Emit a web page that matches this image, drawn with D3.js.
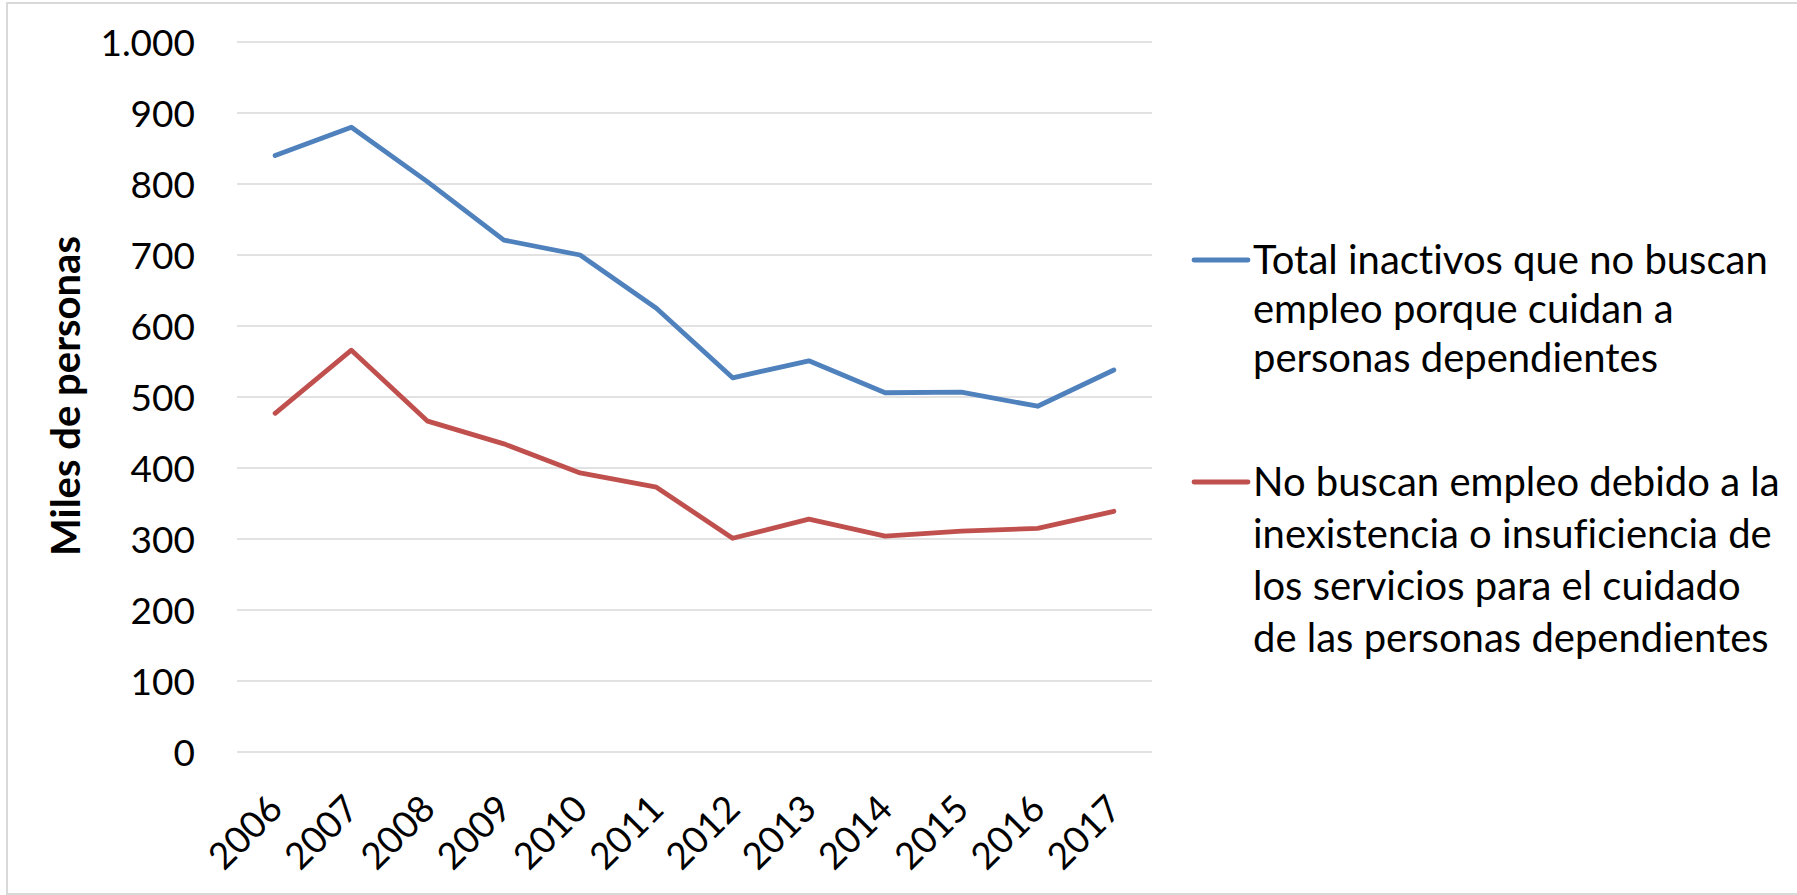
<!DOCTYPE html>
<html>
<head>
<meta charset="utf-8">
<script src="https://cdn.jsdelivr.net/npm/d3@7"></script>
<style>
  html, body { margin: 0; padding: 0; background: #fff; }
  svg { display: block; }
  text { font-family: Lato, "Open Sans", sans-serif; fill: #000; font-variant-ligatures: none; font-feature-settings: "liga" 0, "dlig" 0; }
</style>
</head>
<body>
<svg id="chart" width="1797" height="895"></svg>
<script>
// Years on the category axis
const years = ["2006", "2007", "2008", "2009", "2010", "2011", "2012", "2013", "2014", "2015", "2016", "2017"];

// Miles de personas
const totalInactivos = [840, 880, 803, 721, 700, 625, 527, 551, 506, 507, 487, 538];
const faltaServicios = [477, 566, 466, 434, 393, 373, 301, 328, 304, 311, 315, 339];

// Y axis ticks and their labels (Spanish thousands separator)
const yTicks = [0, 100, 200, 300, 400, 500, 600, 700, 800, 900, 1000];
const yTickLabels = ["0", "100", "200", "300", "400", "500", "600", "700", "800", "900", "1.000"];

const seriesNames = [
  ["Total inactivos que no buscan", "empleo porque cuidan a", "personas dependientes"],
  ["No buscan empleo debido a la", "inexistencia o insuficiencia de", "los servicios para el cuidado", "de las personas dependientes"]
];
const seriesColors = ["#4F81BD", "#C0504D"];
const yTitle = "Miles de personas";

const series = [totalInactivos, faltaServicios];

const svg = d3.select("#chart");

// Outer chart frame (right edge runs off the canvas)
svg.append("rect")
  .attr("x", 7).attr("y", 3)
  .attr("width", 1800).attr("height", 891)
  .attr("fill", "none")
  .attr("stroke", "#d9d9d9")
  .attr("stroke-width", 2);

const plot = { left: 237, right: 1152, top: 42, bottom: 752 };

const x = d3.scalePoint()
  .domain(years)
  .range([plot.left, plot.right])
  .padding(0.5);

const y = d3.scaleLinear()
  .domain([0, 1000])
  .range([plot.bottom, plot.top]);

// Horizontal gridlines
svg.append("g")
  .selectAll("line")
  .data(yTicks)
  .join("line")
  .attr("x1", plot.left).attr("x2", plot.right)
  .attr("y1", d => y(d)).attr("y2", d => y(d))
  .attr("stroke", "#d9d9d9")
  .attr("stroke-width", 1.6);

// Y axis labels
const yAxis = d3.axisLeft(y)
  .tickValues(yTicks)
  .tickFormat((d, i) => yTickLabels[i])
  .tickSize(0)
  .tickPadding(0);
const gy = svg.append("g")
  .attr("transform", `translate(195,0)`)
  .call(yAxis);
gy.select(".domain").remove();
gy.selectAll("text")
  .attr("font-size", 37)
  .attr("font-family", "Lato, sans-serif")
  .attr("fill", "#000")
  .attr("dy", "0.36em");

// X axis labels, rotated
const xAxis = d3.axisBottom(x).tickSize(0).tickPadding(0);
const gx = svg.append("g")
  .attr("transform", `translate(0,${plot.bottom})`)
  .call(xAxis);
gx.select(".domain").remove();
gx.selectAll("text")
  .attr("font-size", 37)
  .attr("font-family", "Lato, sans-serif")
  .attr("fill", "#000")
  .attr("y", 0).attr("dy", "0.35em")
  .attr("text-anchor", "end")
  .attr("transform", "translate(0,50) rotate(-45)");

// Y axis title
svg.append("text")
  .attr("transform", `translate(80,396) rotate(-90)`)
  .attr("text-anchor", "middle")
  .attr("font-size", 40)
  .attr("font-weight", 700)
  .text(yTitle);

// Series lines
const line = d3.line()
  .x((d, i) => x(years[i]))
  .y(d => y(d));

svg.append("g")
  .selectAll("path")
  .data(series)
  .join("path")
  .attr("d", d => line(d))
  .attr("fill", "none")
  .attr("stroke", (d, i) => seriesColors[i])
  .attr("stroke-width", 4.8)
  .attr("stroke-linejoin", "round")
  .attr("stroke-linecap", "round");

// Legend: swatch line plus wrapped label, first baseline level with the swatch centre
const legendTop = [260, 482];
const lineGap = [49, 52];
const legend = svg.append("g");
seriesNames.forEach((lines, i) => {
  const g = legend.append("g").attr("transform", `translate(0,${legendTop[i]})`);
  g.append("line")
    .attr("x1", 1194).attr("x2", 1248)
    .attr("y1", 0).attr("y2", 0)
    .attr("stroke", seriesColors[i])
    .attr("stroke-width", 4.8)
    .attr("stroke-linecap", "round");
  const t = g.append("text")
    .attr("x", 1253).attr("y", 13.5)
    .attr("font-size", 40);
  lines.forEach((s, j) => {
    t.append("tspan")
      .attr("x", 1253)
      .attr("dy", j === 0 ? 0 : lineGap[i])
      .text(s);
  });
});
</script>
</body>
</html>
